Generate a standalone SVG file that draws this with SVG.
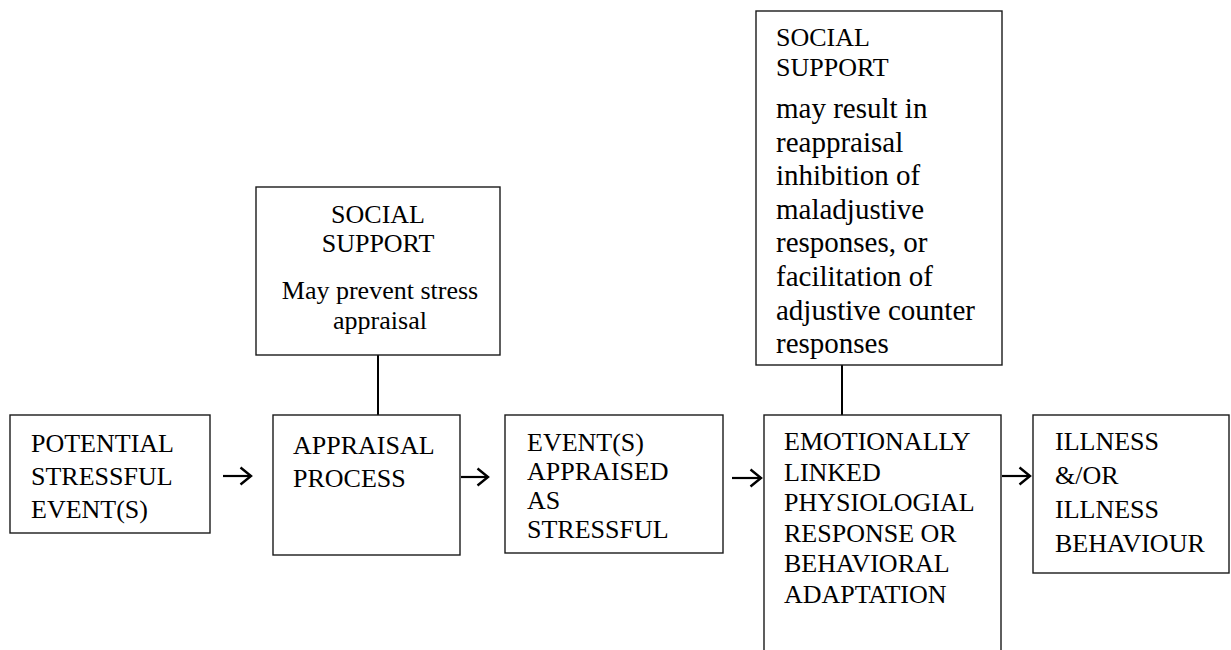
<svg xmlns="http://www.w3.org/2000/svg" width="1231" height="650" viewBox="0 0 1231 650">
  <style>
    .box { fill: #ffffff; stroke: #1a1a1a; stroke-width: 1.4; }
    .txt { font-family: "Liberation Serif", "Times New Roman", serif; font-size: 26px; fill: #000000; }
    .body { font-size: 29px; }
    .mid { text-anchor: middle; }
    .link { stroke: #000000; stroke-width: 2; fill: none; }
    .arrow { stroke: #000000; stroke-width: 2.2; fill: none; marker-end: url(#chevron); }
  </style>
  <defs>
    <marker id="chevron" viewBox="0 0 14 20" refX="12" refY="10" markerWidth="14" markerHeight="20" markerUnits="userSpaceOnUse" orient="auto">
      <path d="M1.5,1.5 L12,10 L1.5,18.5" fill="none" stroke="#000000" stroke-width="2.4"/>
    </marker>
  </defs>
  <rect width="1231" height="650" fill="#ffffff"/>

  <!-- connectors -->
  <g id="connectors">
    <line class="link" x1="378" y1="355" x2="378" y2="415"/>
    <line class="link" x1="842" y1="365" x2="842" y2="415"/>
    <line class="arrow" x1="223" y1="476" x2="251" y2="476"/>
    <line class="arrow" x1="461" y1="477" x2="488" y2="477"/>
    <line class="arrow" x1="732" y1="478" x2="761" y2="478"/>
    <line class="arrow" x1="1002" y1="476" x2="1030" y2="476"/>
  </g>

  <g id="support-appraisal">
    <rect class="box" x="256" y="187" width="244" height="168"/>
    <text class="txt mid" x="378" y="223">SOCIAL</text>
    <text class="txt mid" x="378" y="252">SUPPORT</text>
    <text class="txt mid" x="380" y="299">May prevent stress</text>
    <text class="txt mid" x="380" y="329">appraisal</text>
  </g>

  <g id="support-response">
    <rect class="box" x="756" y="11" width="246" height="354"/>
    <text class="txt" x="776" y="46">SOCIAL</text>
    <text class="txt" x="776" y="76">SUPPORT</text>
    <text class="txt body" x="776" y="118">may result in</text>
    <text class="txt body" x="776" y="152">reappraisal</text>
    <text class="txt body" x="776" y="185">inhibition of</text>
    <text class="txt body" x="776" y="219">maladjustive</text>
    <text class="txt body" x="776" y="252">responses, or</text>
    <text class="txt body" x="776" y="286">facilitation of</text>
    <text class="txt body" x="776" y="320">adjustive counter</text>
    <text class="txt body" x="776" y="353">responses</text>
  </g>

  <g id="stressful-events">
    <rect class="box" x="10" y="415" width="200" height="118"/>
    <text class="txt" x="31" y="452">POTENTIAL</text>
    <text class="txt" x="31" y="485">STRESSFUL</text>
    <text class="txt" x="31" y="518">EVENT(S)</text>
  </g>

  <g id="appraisal-process">
    <rect class="box" x="273" y="415" width="187" height="140"/>
    <text class="txt" x="293" y="454">APPRAISAL</text>
    <text class="txt" x="293" y="487">PROCESS</text>
  </g>

  <g id="appraised-stressful">
    <rect class="box" x="505" y="415" width="218" height="138"/>
    <text class="txt" x="527" y="451">EVENT(S)</text>
    <text class="txt" x="527" y="480">APPRAISED</text>
    <text class="txt" x="527" y="509">AS</text>
    <text class="txt" x="527" y="538">STRESSFUL</text>
  </g>

  <g id="emotional-response">
    <rect class="box" x="764" y="415" width="237" height="250"/>
    <text class="txt" x="784" y="450">EMOTIONALLY</text>
    <text class="txt" x="784" y="481">LINKED</text>
    <text class="txt" x="784" y="511">PHYSIOLOGIAL</text>
    <text class="txt" x="784" y="542">RESPONSE OR</text>
    <text class="txt" x="784" y="572">BEHAVIORAL</text>
    <text class="txt" x="784" y="603">ADAPTATION</text>
  </g>

  <g id="illness">
    <rect class="box" x="1033" y="415" width="196" height="158"/>
    <text class="txt" x="1055" y="450">ILLNESS</text>
    <text class="txt" x="1055" y="484">&amp;/OR</text>
    <text class="txt" x="1055" y="518">ILLNESS</text>
    <text class="txt" x="1055" y="552">BEHAVIOUR</text>
  </g>
</svg>
